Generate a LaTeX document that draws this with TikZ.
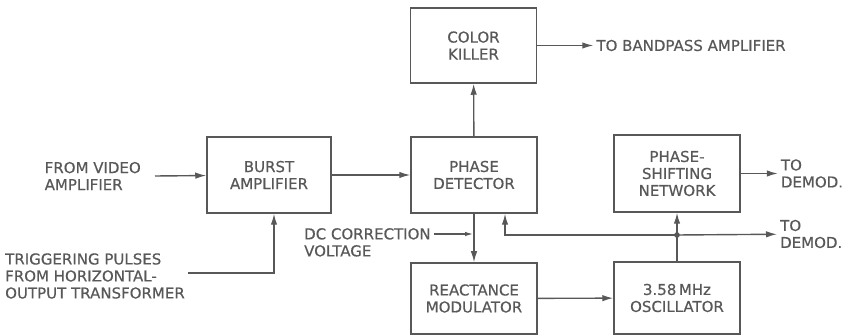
\documentclass[tikz,border=0pt]{standalone}
\usepackage{fontspec}
\setmainfont{DejaVu Sans}[UprightFeatures={FakeBold=0.5}]
\definecolor{ink}{RGB}{88,88,88}
\usepackage{tikz}
\usetikzlibrary{positioning, arrows.meta}

\begin{document}
\begin{tikzpicture}[x=1pt, y=-1pt,
    block/.style={draw=ink, line width=1.5pt, minimum width=126pt, minimum height=76pt,
      inner sep=2pt, align=center, text=ink, font=\fontsize{15}{17}\selectfont},
    lbl/.style={inner sep=3pt, align=left, text=ink, font=\fontsize{15}{17}\selectfont},
    arr/.style={draw=ink, line width=1.4pt, -{Latex[length=11pt, width=6.5pt]}},
    small arr/.style={draw=ink, line width=1.1pt, -{Latex[length=8pt, width=4.5pt]}},
  ]
    \useasboundingbox (0,0) rectangle (846,336);
    % blocks
    \node[block, minimum width=124pt] (burst) at (269, 175) {BURST\\AMPLIFIER};
    \node[block] (detector) at (474, 175) {PHASE\\DETECTOR};
    \node[block, minimum height=75pt] (killer) at (473.5, 45.5) {COLOR\\KILLER};
    \node[block, minimum height=71pt] (react) at (474, 298.5) {REACTANCE\\MODULATOR};
    \node[block, minimum height=72pt] (osc) at (677, 298) {3.58\,MHz\\OSCILLATOR};
    \node[block, minimum height=77pt] (shifter) at (677, 173.5) {PHASE-\\SHIFTING\\NETWORK};
    % outside labels
    \node[lbl, anchor=east] (video) at (144, 176) {FROM VIDEO\\AMPLIFIER};
    \node[lbl, right=56pt of killer] (bandpass) {TO BANDPASS AMPLIFIER};
    \node[lbl, right=37pt of shifter] (demodA) {TO\\DEMOD.};
    \node[lbl, anchor=west] (demodB) at (777, 234) {TO\\DEMOD.};
    \node[lbl, anchor=north west] (dc) at (301, 225) {DC CORRECTION\\VOLTAGE};
    \node[lbl, anchor=west] (trig) at (2, 276) {TRIGGERING PULSES\\FROM HORIZONTAL-\\OUTPUT TRANSFORMER};
    \coordinate (jn) at (677, 235);
    \coordinate (dcin) at (473, 234);
    \coordinate (trigin) at (188, 273);
    % connections
    \draw[arr] ([xshift=11pt]video.east) -- (burst);
    \draw[arr] (burst) -- (detector);
    \draw[arr] (detector) -- (killer);
    \draw[arr] (killer) -- (bandpass);
    \draw[arr] (detector) -- (react);
    \draw[arr] (react) -- (osc);
    \draw[arr] (osc) -- (shifter);
    \draw[arr] (shifter) -- (demodA);
    \draw[arr] (jn) -- (demodB);
    \draw[arr] (jn) -| ([xshift=31pt]detector.south);
    \draw[small arr] (dc.north east |- dcin) -- (dcin);
    \draw[arr] (trigin) -| ([xshift=5pt]burst.south);
    \fill[ink] (jn) circle (2.8pt);
  \end{tikzpicture}
\end{document}
